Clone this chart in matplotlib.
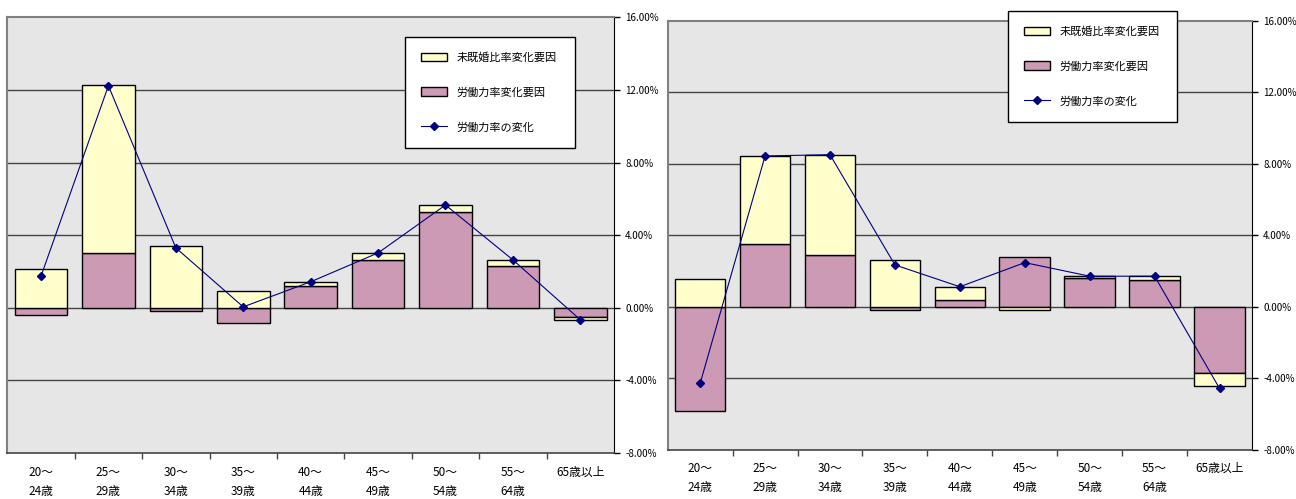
import numpy as np
import matplotlib.pyplot as plt
from matplotlib.ticker import FuncFormatter

plt.rcParams['font.family'] = ['Noto Sans CJK JP', 'DejaVu Sans']

# age groups (same for both panels)
ages = ['20～\n24歳', '25～\n29歳', '30～\n34歳', '35～\n39歳', '40～\n44歳',
        '45～\n49歳', '50～\n54歳', '55～\n64歳', '65歳以上']

# left panel, values in %
left_labor = [-0.38, 3.02, -0.16, -0.86, 1.21, 2.64, 5.27, 2.31, -0.49]
left_unmarried = [2.14, 9.23, 3.41, 0.93, 0.22, 0.38, 0.39, 0.33, -0.17]
left_change = [1.74, 12.23, 3.30, 0.05, 1.43, 3.02, 5.66, 2.64, -0.66]

# right panel, values in %
right_labor = [-5.83, 3.50, 2.89, -0.17, 0.39, 2.78, 1.61, 1.48, -3.72]
right_unmarried = [1.56, 4.94, 5.61, 2.61, 0.72, -0.22, 0.11, 0.24, -0.71]
right_change = [-4.30, 8.43, 8.50, 2.33, 1.11, 2.46, 1.70, 1.70, -4.58]

yticks = [-8, -4, 0, 4, 8, 12, 16]

yellow = '#ffffcc'
pink = '#cc9ab4'
navy = '#000080'

fig = plt.figure(figsize=[12.96, 4.99], dpi=100)
W, H = 1296, 499


def panel(rect, labor, unmarried, change, legend_box):
    ax = fig.add_axes(rect)
    ax.set_facecolor('#e6e6e6')
    x = np.arange(len(ages))
    labor = np.array(labor)
    unm = np.array(unmarried)

    # stack positives on positives, negatives on negatives
    pos_base = np.where(labor > 0, labor, 0)
    neg_base = np.where(labor < 0, labor, 0)
    unm_bottom = np.where(unm >= 0, pos_base, neg_base)

    b1 = ax.bar(x, labor, width=0.78, color=pink, edgecolor='black', linewidth=1.0,
                zorder=3)
    b2 = ax.bar(x, unm, width=0.78, bottom=unm_bottom, color=yellow, edgecolor='black',
                linewidth=1.0, zorder=3)
    l1, = ax.plot(x, change, color=navy, linewidth=0.8, marker='D', markersize=4,
                  zorder=4)

    ax.set_xlim(-0.5, len(ages) - 0.5)
    ax.set_ylim(-8, 16)
    ax.yaxis.tick_right()
    ax.set_yticks(yticks)
    ax.yaxis.set_major_formatter(FuncFormatter(lambda v, p: f'{v:.2f}%'))
    ax.tick_params(axis='y', length=4, width=1, pad=4, labelsize=7)
    for y in yticks[1:-1]:
        ax.axhline(y, color='#444444', linewidth=1.0, zorder=1)

    ax.set_xticks(x)
    ax.set_xticklabels(ages, fontsize=8.5, linespacing=1.6)
    ax.set_xticks(np.arange(0.5, len(ages) - 0.5), minor=True)
    ax.tick_params(axis='x', which='major', length=0, pad=9)
    ax.tick_params(axis='x', which='minor', length=4, width=1, color='#444444')

    for s in ['top', 'left']:
        ax.spines[s].set_color('#808080')
        ax.spines[s].set_linewidth(1.5)
    ax.spines['right'].set_color('black')
    ax.spines['bottom'].set_color('#444444')
    ax.spines['bottom'].set_linewidth(1.2)

    leg = ax.legend([b2, b1, l1], ['未既婚比率変化要因', '労働力率変化要因', '労働力率の変化'],
                    loc='lower left', bbox_to_anchor=legend_box,
                    bbox_transform=fig.transFigure, mode='expand',
                    fontsize=8, frameon=True, fancybox=False, framealpha=1,
                    edgecolor='black', labelspacing=2.2, borderpad=1.4,
                    handlelength=2.4, handleheight=0.8, handletextpad=0.8,
                    borderaxespad=0)
    leg.get_frame().set_linewidth(1.0)
    leg.set_zorder(10)
    return ax


panel([7.3 / W, (H - 453) / H, (614 - 7.3) / W, (453 - 17.3) / H],
      left_labor, left_unmarried, left_change,
      (405 / W, (H - 148) / H, 170 / W, 108 / H))
panel([667.7 / W, (H - 449.5) / H, (1252 - 667.7) / W, (449.5 - 20.7) / H],
      right_labor, right_unmarried, right_change,
      (1008 / W, (H - 122) / H, 169 / W, 109 / H))

plt.savefig('out.png', dpi=100)
